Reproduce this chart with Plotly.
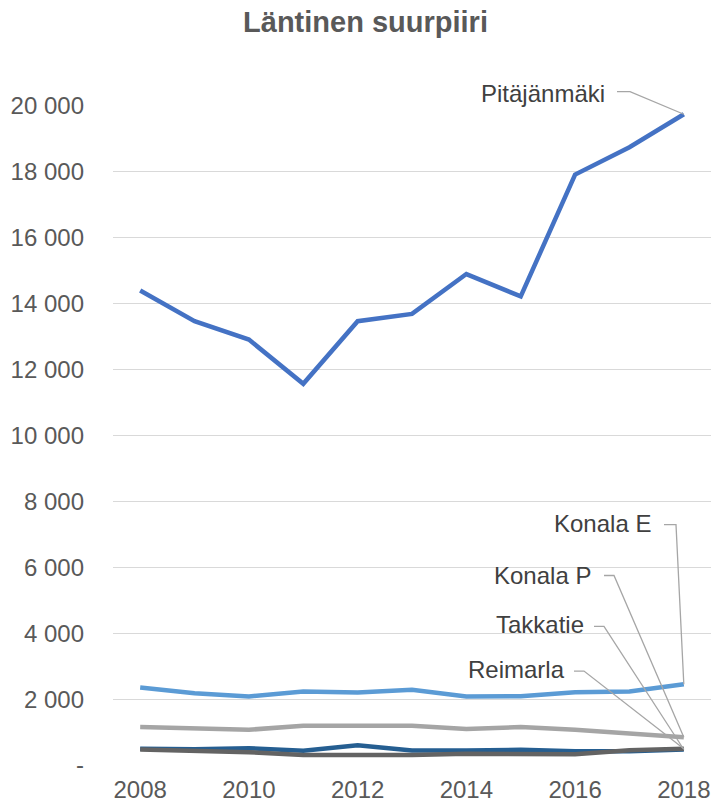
import plotly.graph_objects as go

# Population by sub-district, western major district
years = list(range(2008, 2019))

pitajanmaki = [14400, 13470, 12910, 11570, 13470, 13690, 14900, 14220, 17920, 18750, 19750]
konala_e = [2350, 2180, 2080, 2230, 2200, 2280, 2080, 2090, 2210, 2230, 2450]
konala_p = [1150, 1110, 1070, 1190, 1190, 1190, 1090, 1150, 1070, 940, 840]
takkatie = [490, 480, 510, 430, 600, 440, 440, 460, 420, 420, 470]
reimarla = [470, 420, 390, 300, 300, 300, 340, 330, 330, 450, 490]

series = [
    ("Pitäjänmäki", pitajanmaki, "#4472C4"),
    ("Konala E", konala_e, "#5B9BD5"),
    ("Konala P", konala_p, "#A5A5A5"),
    ("Takkatie", takkatie, "#255E91"),
    ("Reimarla", reimarla, "#636363"),
]

y_ticks = list(range(0, 20001, 2000))
y_ticktext = ["-" if v == 0 else f"{v:,}".replace(",", " ") for v in y_ticks]
x_ticks = [2008, 2010, 2012, 2014, 2016, 2018]

FONT = "Liberation Sans, Arial, sans-serif"
W, H = 718, 810
L, R, T, B = 113, 711, 105.5, 767.3
X_RANGE = [2007.5, 2018.5]
Y_RANGE = [0, 20000]


def px_to_paper(px, py):
    return (px - L) / (R - L), (B - py) / (B - T)


def data_to_paper(x, y):
    return ((x - X_RANGE[0]) / (X_RANGE[1] - X_RANGE[0]),
            (y - Y_RANGE[0]) / (Y_RANGE[1] - Y_RANGE[0]))


fig = go.Figure()
for name, vals, color in series:
    fig.add_trace(go.Scatter(
        x=years, y=vals, mode="lines", name=name,
        line=dict(color=color, width=4.5),
        hoverinfo="x+y+name",
    ))

# Series labels with leader lines to the last point:
# (text right edge px, text middle px, stub start px, stub end px, stub y px)
label_pos = {
    "Pitäjänmäki": (607, 93, 617, 630, 91),
    "Konala E": (653, 525, 664, 676, 526),
    "Konala P": (593, 577, 604, 614, 577),
    "Takkatie": (586, 626, 594, 604, 628),
    "Reimarla": (567, 671, 574, 584, 673),
}

annotations = []
shapes = []
for name, vals, color in series:
    tx, ty, s0, s1, sy = label_pos[name]
    ax_, ay_ = px_to_paper(tx, ty)
    annotations.append(dict(
        x=ax_, y=ay_, xref="paper", yref="paper",
        text=name, showarrow=False, xanchor="right", yanchor="middle",
        font=dict(family=FONT, size=24, color="#404040"),
    ))
    # paper-referenced leader lines are not clipped to the plot area
    p0 = px_to_paper(s0, sy)
    p1 = px_to_paper(s1, sy)
    p2 = data_to_paper(years[-1], vals[-1])
    path = f"M {p0[0]},{p0[1]} L {p1[0]},{p1[1]} L {p2[0]},{p2[1]}"
    shapes.append(dict(
        type="path", path=path, xref="paper", yref="paper",
        line=dict(color="#A6A6A6", width=1.3),
    ))

fig.update_layout(
    width=W, height=H,
    margin=dict(l=L, r=W - R, t=T, b=H - B),
    paper_bgcolor="white", plot_bgcolor="white",
    showlegend=False,
    title=dict(
        text="<b>Läntinen suurpiiri</b>",
        x=365.5 / W, xanchor="center", xref="container",
        y=1 - 22 / H, yanchor="middle", yref="container",
        font=dict(family=FONT, size=29, color="#595959"),
    ),
    font=dict(family=FONT, size=24, color="#595959"),
    annotations=annotations,
    shapes=shapes,
)

fig.update_xaxes(
    range=X_RANGE, tickvals=x_ticks, ticktext=[str(v) for v in x_ticks],
    showgrid=False, zeroline=False, showline=False, ticks="",
    ticklabelstandoff=8,
    tickfont=dict(family=FONT, size=24, color="#595959"),
)
fig.update_yaxes(
    range=Y_RANGE, tickvals=y_ticks, ticktext=y_ticktext,
    showgrid=True, gridcolor="#D9D9D9", gridwidth=1.3,
    zeroline=False, showline=False, ticks="",
    ticklabelstandoff=28,
    tickfont=dict(family=FONT, size=24, color="#595959"),
)

fig.write_html("out.html")
